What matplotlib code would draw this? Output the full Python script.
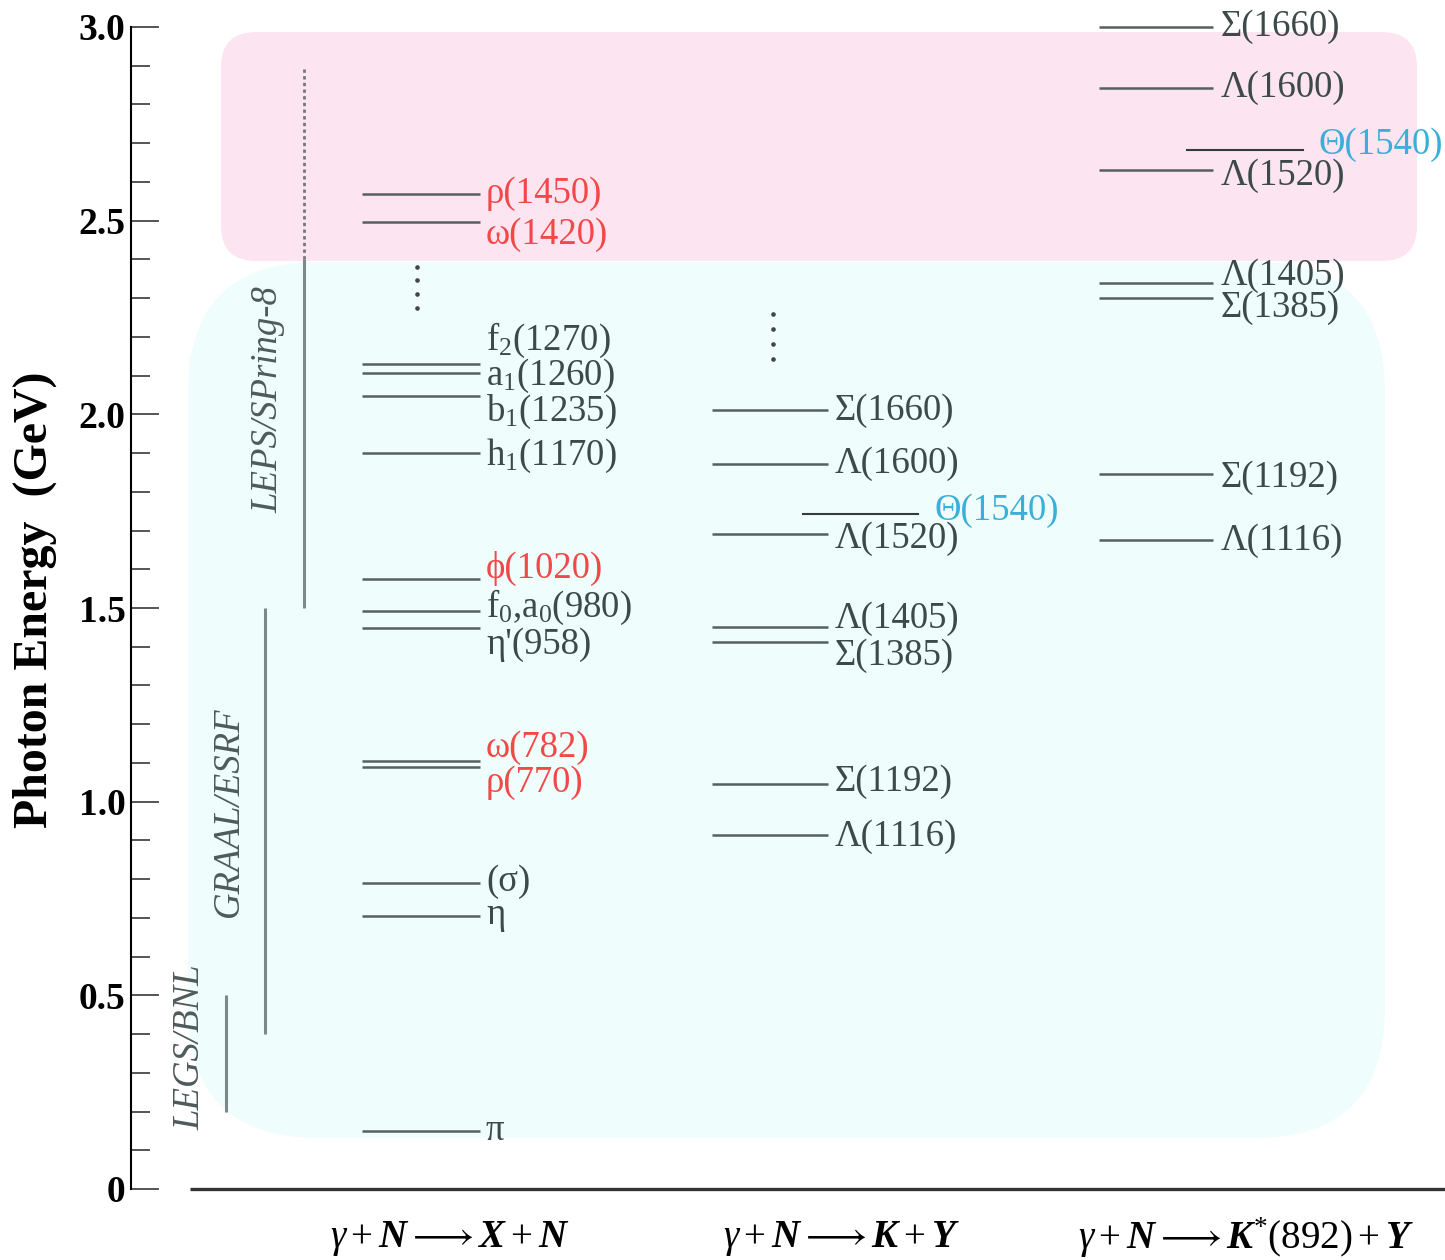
import matplotlib
matplotlib.use('Agg')
import matplotlib.pyplot as plt
from matplotlib.patches import FancyBboxPatch

plt.rcParams['font.family'] = ['Liberation Serif', 'DejaVu Serif']
plt.rcParams['mathtext.fontset'] = 'custom'
plt.rcParams['mathtext.rm'] = 'Liberation Serif'
plt.rcParams['mathtext.it'] = 'Liberation Serif:italic'
plt.rcParams['mathtext.bf'] = 'Liberation Serif:bold:italic'

# ---------------- data (photon energy thresholds, GeV) ----------------
meson_names = ['π', 'η', '(σ)', 'ρ(770)', 'ω(782)', "η'(958)", 'f$_0$,a$_0$(980)',
               'ϕ(1020)', 'h$_1$(1170)', 'b$_1$(1235)', 'a$_1$(1260)', 'f$_2$(1270)',
               'ω(1420)', 'ρ(1450)']
meson_threshold = [0.150, 0.705, 0.790, 1.090, 1.106, 1.449, 1.492,
                   1.575, 1.900, 2.048, 2.107, 2.130, 2.497, 2.569]
meson_highlight = [0, 0, 0, 1, 1, 0, 0, 1, 0, 0, 0, 0, 1, 1]

kaon_names = ['Λ(1116)', 'Σ(1192)', 'Σ(1385)', 'Λ(1405)', 'Λ(1520)', 'Λ(1600)', 'Σ(1660)']
kaon_threshold = [0.914, 1.046, 1.412, 1.451, 1.691, 1.872, 2.011]
kaon_theta = 1.743

kstar_names = ['Λ(1116)', 'Σ(1192)', 'Σ(1385)', 'Λ(1405)', 'Λ(1520)', 'Λ(1600)', 'Σ(1660)']
kstar_threshold = [1.676, 1.846, 2.300, 2.339, 2.631, 2.843, 3.000]
kstar_theta = 2.683
theta_name = 'Θ(1540)'

detector_names = ['LEGS/BNL', 'GRAAL/ESRF', 'LEPS/SPring-8']
detector_low = [0.20, 0.40, 1.50]
detector_high = [0.50, 1.50, 2.40]
leps_extension = 2.90

ellipsis_col1 = [2.381, 2.347, 2.311, 2.275]
ellipsis_col2 = [2.259, 2.221, 2.182, 2.143]

reaction_labels = [r'$\gamma + \mathbf{N} \longrightarrow \mathbf{X} + \mathbf{N}$',
                   r'$\gamma + \mathbf{N} \longrightarrow \mathbf{K} + \mathbf{Y}$',
                   r'$\gamma + \mathbf{N} \longrightarrow \mathbf{K}^{*}(892) + \mathbf{Y}$']

ytick_major = [0, 0.5, 1.0, 1.5, 2.0, 2.5, 3.0]
ytick_labels = ['0', '0.5', '1.0', '1.5', '2.0', '2.5', '3.0']

# ---------------- layout (label positions) ----------------
meson_label_y = [0.150, 0.707, 0.793, 1.048, 1.139, 1.404, 1.502,
                 1.601, 1.893, 2.006, 2.099, 2.190, 2.463, 2.569]
kaon_label_y = [0.909, 1.051, 1.376, 1.472, 1.678, 1.872, 2.009]
kaon_theta_label_y = 1.751
kstar_label_y = [1.673, 1.836, 2.275, 2.357, 2.616, 2.843, 3.000]
kstar_theta_label_y = 2.696
det_label_y = [0.367, 0.973, 2.037]

GREY = '#3e4a4a'
LINE = '#55605f'
RED = '#f24848'
CYAN = '#3ab0d8'
DET = '#7d8888'

W, H = 1445, 1260
fig = plt.figure(figsize=(W / 100, H / 100), dpi=100)
ax = fig.add_axes([131 / W, 71 / H, (W - 131) / W, 1162 / H])
ax.set_xlim(131, W)
ax.set_ylim(0, 3.0)
ax.patch.set_visible(False)
gev_per_px = 3.0 / 1162

# background regions
cyan_box = FancyBboxPatch((188, 0.132), 1385 - 188, 2.393 - 0.132,
                          boxstyle='round,pad=0,rounding_size=130',
                          mutation_aspect=gev_per_px, fc='#effdfd', ec='none', zorder=0)
pink_box = FancyBboxPatch((221, 2.396), 1417 - 221, 2.987 - 2.396,
                          boxstyle='round,pad=0,rounding_size=35',
                          mutation_aspect=gev_per_px, fc='#fde4f1', ec='none', zorder=0.5)
ax.add_patch(cyan_box)
ax.add_patch(pink_box)

# axes styling
for s in ['top', 'right', 'bottom']:
    ax.spines[s].set_visible(False)
ax.spines['left'].set_linewidth(1.5)
ax.spines['left'].set_color('black')
ax.set_xticks([])
ax.set_yticks(ytick_major, labels=ytick_labels, fontweight='bold', fontsize=27)
ax.set_yticks([i / 10 for i in range(31)], minor=True)
ax.tick_params(axis='y', which='major', direction='in', length=20, width=1.4,
               color='#555555', pad=4)
ax.tick_params(axis='y', which='minor', direction='in', length=13.5, width=1.4,
               color='#555555')
ax.plot([190, W], [0, 0], color='#333333', lw=2.4, clip_on=False,
        solid_capstyle='butt', zorder=3)

fig.text(35 / W, 1 - 600 / H, 'Photon Energy  (GeV)', rotation=90, ha='center',
         va='center', fontsize=34.5, fontweight='bold')

LS = 26.5
# column 1: X + N
for name, e, hl, ly in zip(meson_names, meson_threshold, meson_highlight, meson_label_y):
    ax.plot([362, 480], [e, e], color=LINE, lw=1.8, zorder=2, solid_capstyle='butt')
    ax.text(486, ly, name, color=RED if hl else GREY, fontsize=LS,
            ha='left', va='center', zorder=3)
ax.plot([417] * len(ellipsis_col1), ellipsis_col1, 'o', ms=2.3, color='#444444', zorder=3)

# column 2: K + Y
for name, e, ly in zip(kaon_names, kaon_threshold, kaon_label_y):
    ax.plot([712, 828], [e, e], color=LINE, lw=1.8, zorder=2, solid_capstyle='butt')
    ax.text(835, ly, name, color=GREY, fontsize=LS, ha='left', va='center', zorder=3)
ax.plot([803, 918], [kaon_theta, kaon_theta], color='#333b3b', lw=1.5, zorder=2)
ax.text(935, kaon_theta_label_y, theta_name, color=CYAN, fontsize=LS, ha='left',
        va='center', zorder=3)
ax.plot([773] * len(ellipsis_col2), ellipsis_col2, 'o', ms=2.3, color='#444444', zorder=3)

# column 3: K*(892) + Y
for name, e, ly in zip(kstar_names, kstar_threshold, kstar_label_y):
    ax.plot([1099, 1213], [e, e], color=LINE, lw=1.8, zorder=2, solid_capstyle='butt',
            clip_on=False)
    ax.text(1221, ly, name, color=GREY, fontsize=LS, ha='left', va='center', zorder=3,
            clip_on=False)
ax.plot([1187, 1303], [kstar_theta, kstar_theta], color='#333b3b', lw=1.5, zorder=2)
ax.text(1318, kstar_theta_label_y, theta_name, color=CYAN, fontsize=LS, ha='left',
        va='center', zorder=3)

# detectors
det_x = [226, 265, 304]
det_label_x = [190, 229, 268]
for name, lo, hi, x, lx, ly in zip(detector_names, detector_low, detector_high,
                                   det_x, det_label_x, det_label_y):
    ax.plot([x, x], [lo, hi], color=DET, lw=2.2, zorder=2, solid_capstyle='butt')
    ax.text(lx, ly, name, rotation=90, ha='center', va='center', fontsize=26.5,
            style='italic', color='#4f5a5a', zorder=3)
ax.plot([304, 304], [detector_high[2], leps_extension], color='#777777', lw=2.0,
        linestyle=(0, (1.2, 1.2)), zorder=2)

# reaction labels
for lab, xc in zip(reaction_labels, [450, 841, 1246]):
    ax.text(xc, -0.127, lab, ha='center', va='center', fontsize=28, color='black',
            clip_on=False)

fig.savefig('out.png', dpi=100)
